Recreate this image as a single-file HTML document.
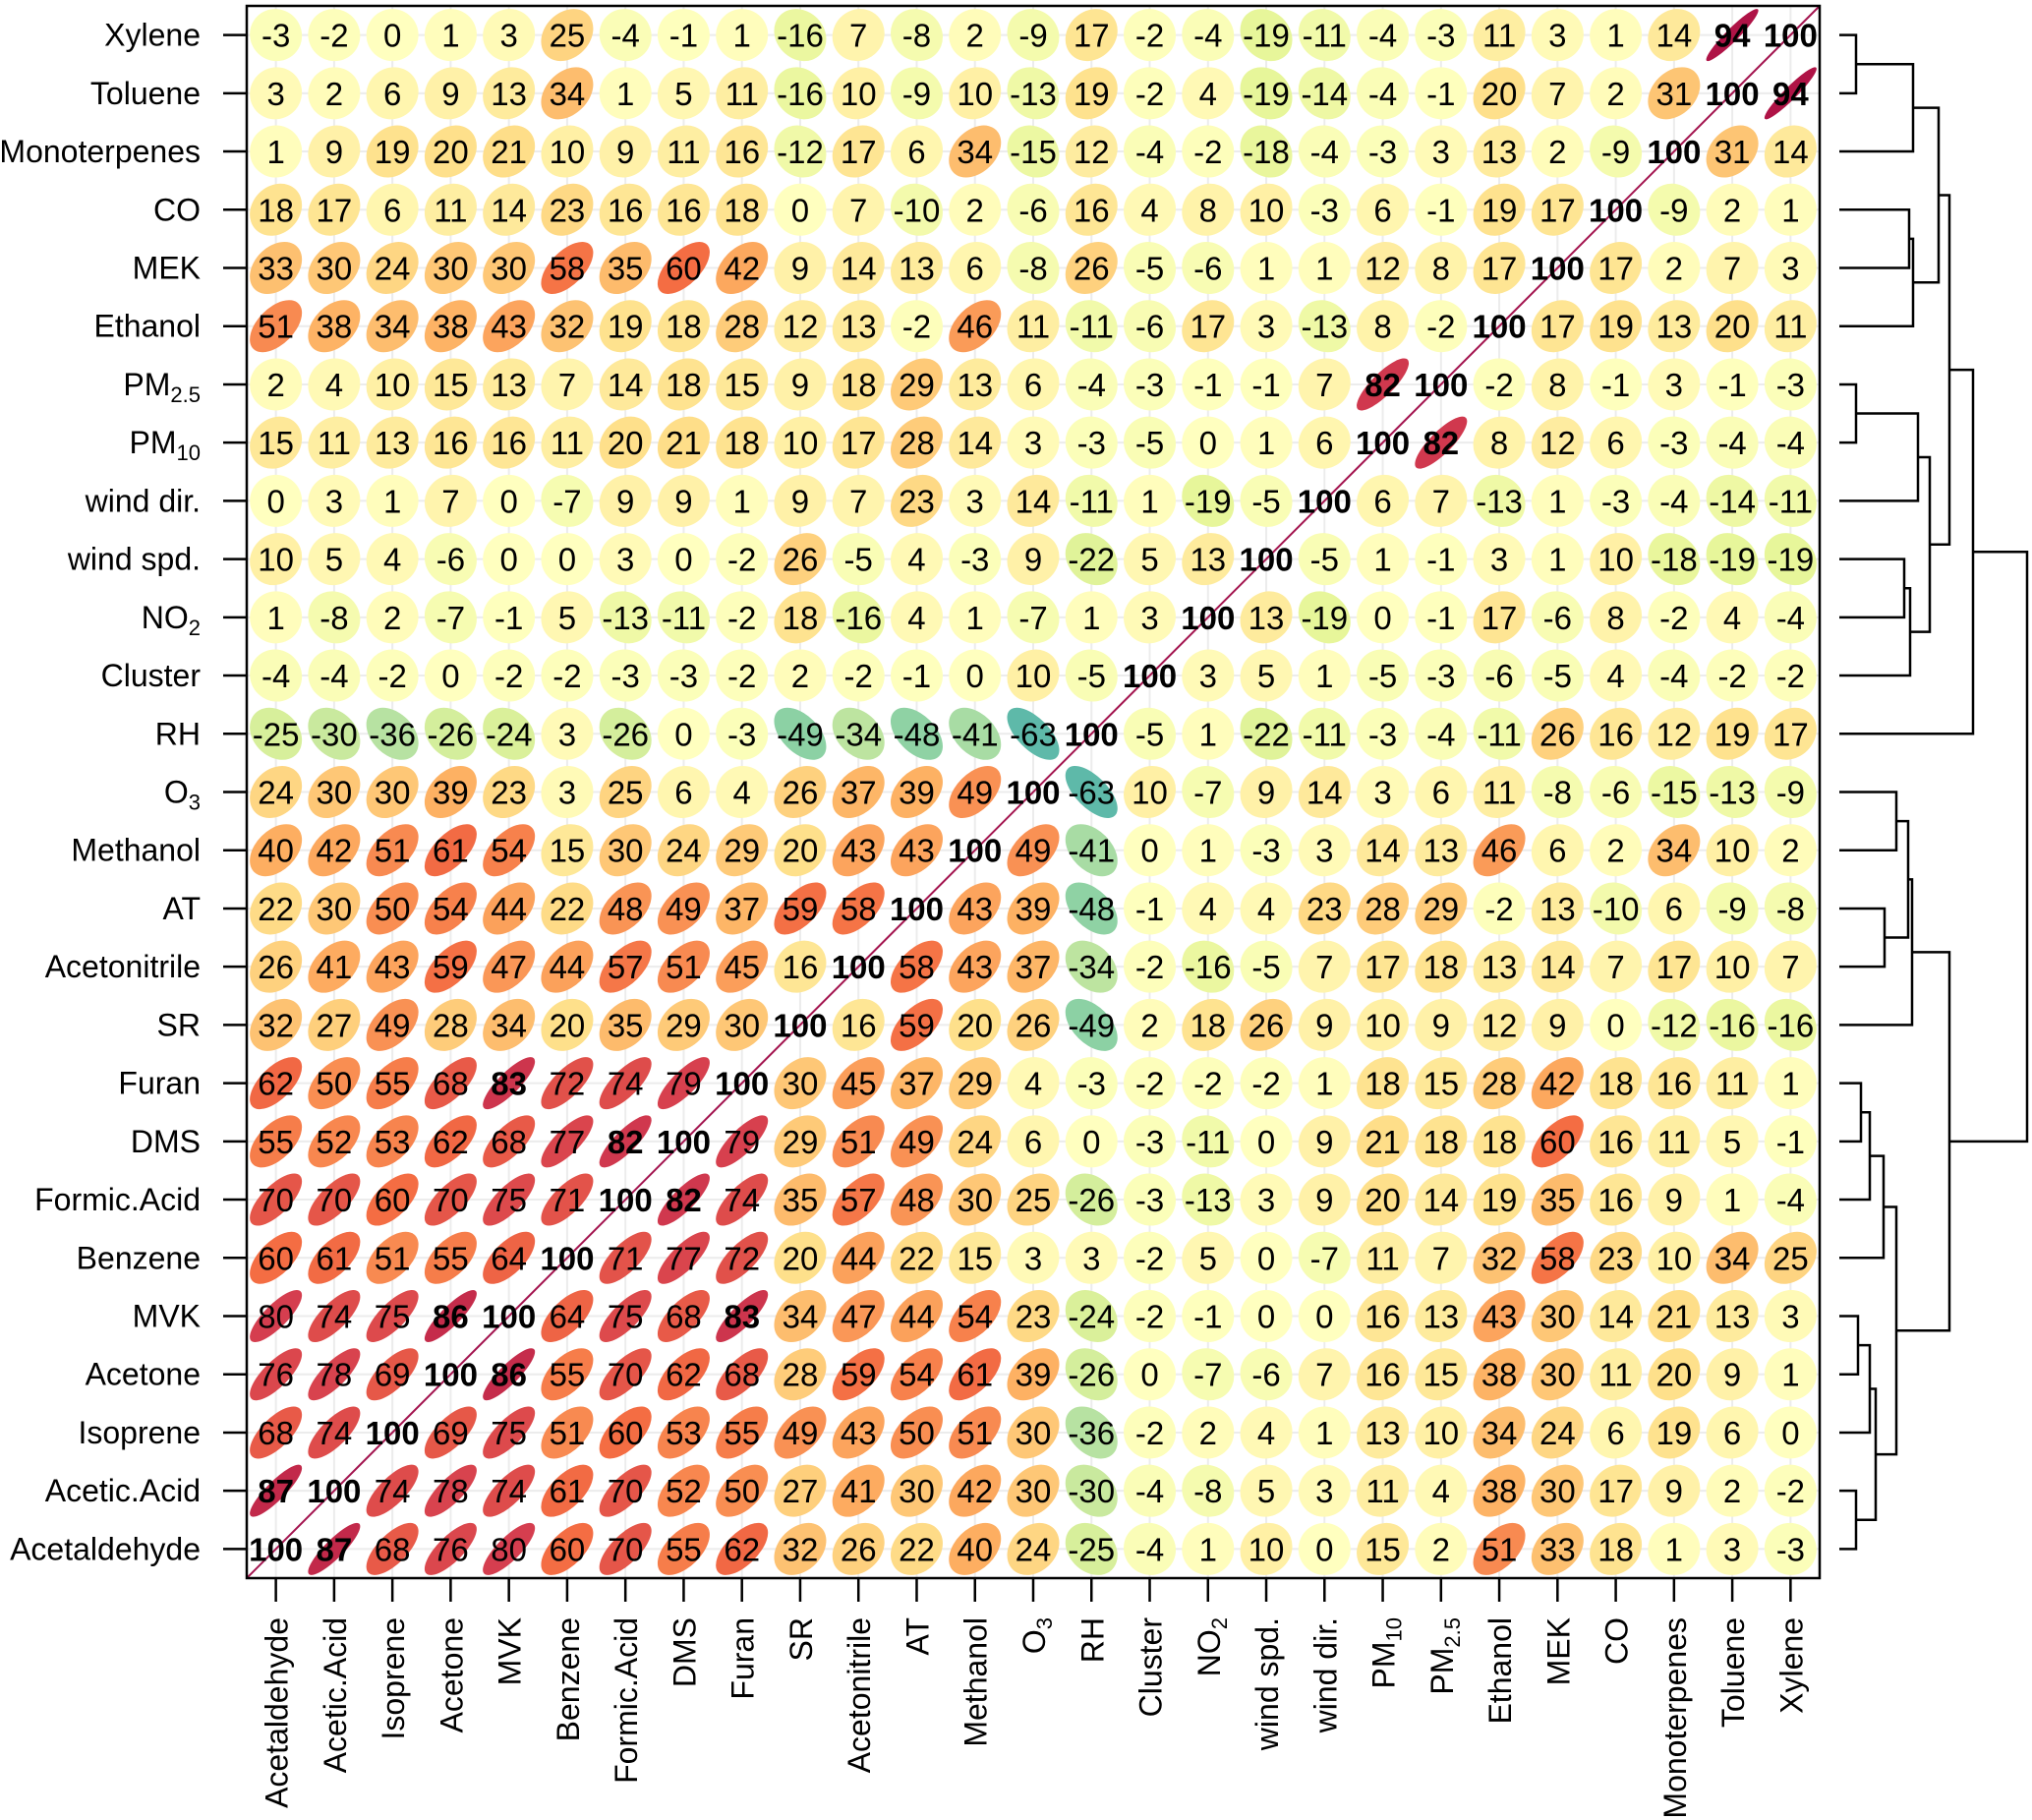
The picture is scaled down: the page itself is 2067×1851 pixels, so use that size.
<!DOCTYPE html>
<html><head><meta charset="utf-8"><style>
html,body{margin:0;padding:0;background:#fff;}
svg{display:block;font-family:"Liberation Sans",Arial,sans-serif;}
</style></head><body>
<svg id="chart" xmlns="http://www.w3.org/2000/svg" width="2067" height="1851" viewBox="0 0 2067 1851"></svg>
<script>
const vars = ["Acetaldehyde","Acetic.Acid","Isoprene","Acetone","MVK","Benzene","Formic.Acid","DMS","Furan","SR","Acetonitrile","AT","Methanol","O3","RH","Cluster","NO2","wind spd.","wind dir.","PM10","PM2.5","Ethanol","MEK","CO","Monoterpenes","Toluene","Xylene"];
const rowVars = vars.slice().reverse();
const row0 = [-3,-2,0,1,3,25,-4,-1,1,-16,7,-8,2,-9,17,-2,-4,-19,-11,-4,-3,11,3,1,14,94,100];
const row1 = [3,2,6,9,13,34,1,5,11,-16,10,-9,10,-13,19,-2,4,-19,-14,-4,-1,20,7,2,31,100,94];
const row2 = [1,9,19,20,21,10,9,11,16,-12,17,6,34,-15,12,-4,-2,-18,-4,-3,3,13,2,-9,100,31,14];
const row3 = [18,17,6,11,14,23,16,16,18,0,7,-10,2,-6,16,4,8,10,-3,6,-1,19,17,100,-9,2,1];
const row4 = [33,30,24,30,30,58,35,60,42,9,14,13,6,-8,26,-5,-6,1,1,12,8,17,100,17,2,7,3];
const row5 = [51,38,34,38,43,32,19,18,28,12,13,-2,46,11,-11,-6,17,3,-13,8,-2,100,17,19,13,20,11];
const row6 = [2,4,10,15,13,7,14,18,15,9,18,29,13,6,-4,-3,-1,-1,7,82,100,-2,8,-1,3,-1,-3];
const row7 = [15,11,13,16,16,11,20,21,18,10,17,28,14,3,-3,-5,0,1,6,100,82,8,12,6,-3,-4,-4];
const row8 = [0,3,1,7,0,-7,9,9,1,9,7,23,3,14,-11,1,-19,-5,100,6,7,-13,1,-3,-4,-14,-11];
const row9 = [10,5,4,-6,0,0,3,0,-2,26,-5,4,-3,9,-22,5,13,100,-5,1,-1,3,1,10,-18,-19,-19];
const row10 = [1,-8,2,-7,-1,5,-13,-11,-2,18,-16,4,1,-7,1,3,100,13,-19,0,-1,17,-6,8,-2,4,-4];
const row11 = [-4,-4,-2,0,-2,-2,-3,-3,-2,2,-2,-1,0,10,-5,100,3,5,1,-5,-3,-6,-5,4,-4,-2,-2];
const row12 = [-25,-30,-36,-26,-24,3,-26,0,-3,-49,-34,-48,-41,-63,100,-5,1,-22,-11,-3,-4,-11,26,16,12,19,17];
const row13 = [24,30,30,39,23,3,25,6,4,26,37,39,49,100,-63,10,-7,9,14,3,6,11,-8,-6,-15,-13,-9];
const row14 = [40,42,51,61,54,15,30,24,29,20,43,43,100,49,-41,0,1,-3,3,14,13,46,6,2,34,10,2];
const row15 = [22,30,50,54,44,22,48,49,37,59,58,100,43,39,-48,-1,4,4,23,28,29,-2,13,-10,6,-9,-8];
const row16 = [26,41,43,59,47,44,57,51,45,16,100,58,43,37,-34,-2,-16,-5,7,17,18,13,14,7,17,10,7];
const row17 = [32,27,49,28,34,20,35,29,30,100,16,59,20,26,-49,2,18,26,9,10,9,12,9,0,-12,-16,-16];
const row18 = [62,50,55,68,83,72,74,79,100,30,45,37,29,4,-3,-2,-2,-2,1,18,15,28,42,18,16,11,1];
const row19 = [55,52,53,62,68,77,82,100,79,29,51,49,24,6,0,-3,-11,0,9,21,18,18,60,16,11,5,-1];
const row20 = [70,70,60,70,75,71,100,82,74,35,57,48,30,25,-26,-3,-13,3,9,20,14,19,35,16,9,1,-4];
const row21 = [60,61,51,55,64,100,71,77,72,20,44,22,15,3,3,-2,5,0,-7,11,7,32,58,23,10,34,25];
const row22 = [80,74,75,86,100,64,75,68,83,34,47,44,54,23,-24,-2,-1,0,0,16,13,43,30,14,21,13,3];
const row23 = [76,78,69,100,86,55,70,62,68,28,59,54,61,39,-26,0,-7,-6,7,16,15,38,30,11,20,9,1];
const row24 = [68,74,100,69,75,51,60,53,55,49,43,50,51,30,-36,-2,2,4,1,13,10,34,24,6,19,6,0];
const row25 = [87,100,74,78,74,61,70,52,50,27,41,30,42,30,-30,-4,-8,5,3,11,4,38,30,17,9,2,-2];
const row26 = [100,87,68,76,80,60,70,55,62,32,26,22,40,24,-25,-4,1,10,0,15,2,51,33,18,1,3,-3];
const values = [row0,row1,row2,row3,row4,row5,row6,row7,row8,row9,row10,row11,row12,row13,row14,row15,row16,row17,row18,row19,row20,row21,row22,row23,row24,row25,row26];

const NS = "http://www.w3.org/2000/svg";
const svg = document.getElementById("chart");
const PL = 251, PT = 6, PR = 1851, PB = 1605;
const n = vars.length;
const cw = (PR - PL) / n, ch = (PB - PT) / n;
const xC = j => PL + cw * (j + 0.5);
const yC = i => PT + ch * (i + 0.5);
function mk(tag, attrs, parent) {
  const e = document.createElementNS(NS, tag);
  for (const k in attrs) e.setAttribute(k, attrs[k]);
  (parent || svg).appendChild(e);
  return e;
}
const stops = [[-1,[94,79,162]],[-0.8,[50,136,189]],[-0.6,[102,194,165]],[-0.4,[171,221,164]],[-0.2,[230,245,152]],[0,[255,255,191]],[0.2,[254,224,139]],[0.4,[253,174,97]],[0.6,[244,109,67]],[0.8,[213,62,79]],[1,[158,1,66]]];
function corrColor(r) {
  for (let k = 0; k < stops.length - 1; k++) {
    const a = stops[k], b = stops[k+1];
    if (r >= a[0] && r <= b[0]) {
      const t = (r - a[0]) / (b[0] - a[0]);
      const c = a[1].map((v, q) => Math.round(v + (b[1][q] - v) * t));
      return "rgb(" + c.join(",") + ")";
    }
  }
  return "#fff";
}
const grid = mk("g", {});


for (let k = 0; k < n; k++) {
  mk("line", {x1: xC(k), x2: xC(k), y1: PT, y2: PB, stroke: "#ececec", "stroke-width": 2}, grid);
  mk("line", {x1: PL, x2: PR, y1: yC(k), y2: yC(k), stroke: "#ececec", "stroke-width": 2}, grid);
}
const ells = mk("g", {});


const Rad = 26.5;
for (let i = 0; i < n; i++) {
  for (let j = 0; j < n; j++) {
    const v = values[i][j];
    if (v === 100) continue;
    const r = v / 100, ar = Math.abs(r);
    const e = mk("ellipse", {cx: 0, cy: 0, rx: Rad * Math.sqrt(1 + ar), ry: Math.max(1, Rad * Math.sqrt(1 - ar)), fill: corrColor(r),
      transform: "translate(" + xC(j) + "," + yC(i) + ") rotate(" + (r >= 0 ? -45 : 45) + ")"}, ells);
    
    
  }
}
const diag = mk("line", {x1: PL, y1: PB, x2: PR, y2: PT, stroke: "#a3144f", "stroke-width": 2});


const nums = mk("g", {"font-size": 33, "text-anchor": "middle"});


for (let i = 0; i < n; i++) {
  for (let j = 0; j < n; j++) {
    const v = values[i][j];
    const t = mk("text", {x: xC(j), y: yC(i) + 12, "font-weight": Math.abs(v) >= 82 ? "bold" : "normal", fill: "#000"}, nums);
    
    
    t.textContent = v;
  }
}
const border = mk("rect", {x: PL, y: PT, width: PR - PL, height: PB - PT, fill: "none", stroke: "#000", "stroke-width": 2.5});


function labelText(parent, name, attrs) {
  const t = mk("text", attrs, parent);
  const sub = {"PM2.5": ["PM", "2.5"], "PM10": ["PM", "10"], "NO2": ["NO", "2"], "O3": ["O", "3"]}[name];
  if (sub) {
    t.appendChild(document.createTextNode(sub[0]));
    const s = mk("tspan", {"font-size": 22, dy: 7}, t);
    s.textContent = sub[1];
  } else t.textContent = name;
  return t;
}
const ylab = mk("g", {"font-size": 32, "text-anchor": "end"});


for (let i = 0; i < n; i++) {
  mk("line", {x1: 227, x2: PL, y1: yC(i), y2: yC(i), stroke: "#000", "stroke-width": 2.5}, ylab);
  const t = labelText(ylab, rowVars[i], {x: 204, y: yC(i) + 11});
  
  
}
const xlab = mk("g", {"font-size": 32, "text-anchor": "end"});


for (let j = 0; j < n; j++) {
  mk("line", {x1: xC(j), x2: xC(j), y1: PB, y2: 1629, stroke: "#000", "stroke-width": 2.5}, xlab);
  const t = labelText(xlab, vars[j], {x: 0, y: 0, transform: "translate(" + (xC(j) + 12) + ",1645) rotate(-90)"});
  
  
}
const dend = mk("g", {stroke: "#000", "stroke-width": 2.5, fill: "none"});


const leafX = 1871;
function join(y1, x1, y2, x2, h) {
  mk("path", {d: "M" + x1 + "," + y1 + "H" + h + "V" + y2 + "H" + x2}, dend);
  return (y1 + y2) / 2;
}
const Y = i => yC(i);
const nA = join(Y(0), leafX, Y(1), leafX, 1888);
const nB = join(nA, 1888, Y(2), leafX, 1946);
const nC = join(Y(3), leafX, Y(4), leafX, 1942);
const nD = join(nC, 1942, Y(5), leafX, 1946);
const nE = join(nB, 1946, nD, 1946, 1972);
const g1 = join(Y(6), leafX, Y(7), leafX, 1888);
const g2 = join(g1, 1888, Y(8), leafX, 1951);
const g3 = join(Y(9), leafX, Y(10), leafX, 1937);
const g4 = join(g3, 1937, Y(11), leafX, 1943);
const nG = join(g2, 1951, g4, 1943, 1963);
const nF = join(nE, 1972, nG, 1963, 1983);
const topNode = join(nF, 1983, Y(12), leafX, 2007);
const h1 = join(Y(13), leafX, Y(14), leafX, 1929);
const h2 = join(Y(15), leafX, Y(16), leafX, 1917);
const h3 = join(h1, 1929, h2, 1917, 1941);
const h4 = join(h3, 1941, Y(17), leafX, 1945);
const k1 = join(Y(18), leafX, Y(19), leafX, 1893);
const k2 = join(k1, 1893, Y(20), leafX, 1902);
const k3 = join(k2, 1902, Y(21), leafX, 1916);
const m1 = join(Y(22), leafX, Y(23), leafX, 1890);
const m2 = join(m1, 1890, Y(24), leafX, 1902);
const m3 = join(Y(25), leafX, Y(26), leafX, 1888);
const m4 = join(m2, 1902, m3, 1888, 1908);
const k4 = join(k3, 1916, m4, 1908, 1929);
const botNode = join(h4, 1945, k4, 1929, 1983);
join(topNode, 2007, botNode, 1983, 2062);
</script>
</body></html>
